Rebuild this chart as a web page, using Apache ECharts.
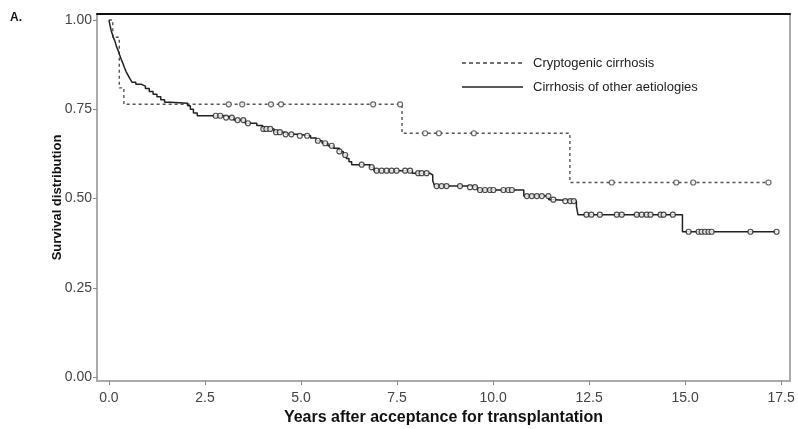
<!DOCTYPE html>
<html>
<head>
<meta charset="utf-8">
<script src="https://cdn.jsdelivr.net/npm/echarts@6/dist/echarts.min.js"></script>
<style>
  html, body { margin: 0; padding: 0; background: #fff; }
  #chart { width: 798px; height: 429px; }
</style>
</head>
<body>
<div id="chart"></div>
<script>
// Kaplan-Meier steps: [time (years), survival after the event]
var cryptoSteps = [
  [0, 1.0], [0.1, 0.952], [0.27, 0.81], [0.39, 0.764],
  [7.63, 0.683], [12.0, 0.545], [17.17, 0.545]
];
var cryptoCensor = [3.12, 3.47, 4.22, 4.48, 6.88, 7.58, 8.23, 8.59, 9.5, 13.09, 14.77, 15.21, 17.17];

var otherSteps = [
  [0, 1.0], [0.03, 0.985], [0.06, 0.97], [0.09, 0.96], [0.12, 0.95], [0.16, 0.94],
  [0.2, 0.925], [0.24, 0.915], [0.28, 0.902], [0.32, 0.89], [0.36, 0.88], [0.4, 0.868],
  [0.45, 0.855], [0.5, 0.845], [0.55, 0.835], [0.6, 0.826], [0.7, 0.82], [0.85, 0.815],
  [0.95, 0.808], [1.05, 0.8], [1.15, 0.792], [1.25, 0.785], [1.35, 0.777], [1.45, 0.77],
  [1.6, 0.767], [2.05, 0.76], [2.12, 0.75], [2.2, 0.74], [2.3, 0.732],
  [2.95, 0.727], [3.25, 0.72], [3.55, 0.711], [3.85, 0.705], [4.0, 0.695], [4.3, 0.686],
  [4.6, 0.68], [4.9, 0.676], [5.25, 0.67], [5.4, 0.662], [5.55, 0.655], [5.7, 0.648],
  [5.85, 0.641], [6.0, 0.632], [6.1, 0.622], [6.18, 0.612], [6.25, 0.603], [6.32, 0.595],
  [6.8, 0.588], [6.9, 0.578], [7.9, 0.571], [8.35, 0.566], [8.43, 0.55], [8.48, 0.535],
  [9.4, 0.532], [9.6, 0.524], [10.8, 0.507], [11.45, 0.497], [11.62, 0.493],
  [12.17, 0.478], [12.21, 0.455], [14.93, 0.407], [17.38, 0.407]
];
var otherCensor = [
  2.78, 2.9, 3.05, 3.2, 3.35, 3.5, 3.62, 4.02, 4.1, 4.2, 4.35, 4.45, 4.6, 4.75,
  4.97, 5.16, 5.44, 5.63, 5.8, 6.0, 6.15, 6.58, 6.84, 6.97, 7.1, 7.23, 7.36, 7.49,
  7.71, 7.84, 8.05, 8.14, 8.27, 8.53, 8.66, 8.79, 9.14, 9.4, 9.53, 9.66, 9.79, 9.92,
  10.01, 10.27, 10.4, 10.49, 10.88, 11.01, 11.14, 11.27, 11.44, 11.57, 11.88, 12.01, 12.1,
  12.43, 12.56, 12.78, 13.22, 13.35, 13.74, 13.87, 14.0, 14.1, 14.36, 14.44, 14.68,
  15.09, 15.35, 15.43, 15.52, 15.61, 15.69, 16.7, 17.38
];

var xTicks = [0, 2.5, 5, 7.5, 10, 12.5, 15, 17.5];
var yTicks = [0, 0.25, 0.5, 0.75, 1.0];
var legendNames = ['Cryptogenic cirrhosis', 'Cirrhosis of other aetiologies'];

// survival level at a censoring time
function levelAt(steps, t) {
  var v = steps[0][1];
  for (var i = 0; i < steps.length; i++) {
    if (steps[i][0] <= t) v = steps[i][1];
  }
  return v;
}

var chart = echarts.init(document.getElementById('chart'));
var font = 'Liberation Sans, Arial, sans-serif';
var tickColor = '#444';
var frameColor = '#aaa';

var option = {
  animation: false,
  textStyle: { fontFamily: font },
  grid: { left: 97, top: 14, right: 8, bottom: 48, show: true, borderColor: frameColor, borderWidth: 2,
    outerBoundsMode: 'none' },
  graphic: [
    { type: 'text', left: 10, top: 12,
      style: { text: 'A.', font: 'bold 12px ' + font, fill: '#111' } },
    // legend drawn by hand so the keys are plain line samples
    { type: 'line', shape: { x1: 462, y1: 63, x2: 523, y2: 63 },
      style: { stroke: '#444', lineWidth: 1.5, lineDash: [4, 3] } },
    { type: 'text', left: 533, top: 57,
      style: { text: legendNames[0], font: '13px ' + font, fill: '#222' } },
    { type: 'line', shape: { x1: 462, y1: 87, x2: 523, y2: 87 },
      style: { stroke: '#222', lineWidth: 1.6 } },
    { type: 'text', left: 533, top: 81,
      style: { text: legendNames[1], font: '13px ' + font, fill: '#222' } }
  ],
  xAxis: [{
    type: 'value', min: -0.31, max: 17.73,
    name: 'Years after acceptance for transplantation',
    nameLocation: 'middle', nameGap: 29, nameMoveOverlap: false,
    nameTextStyle: { fontWeight: 'bold', fontSize: 16, color: '#111' },
    axisLine: { onZero: false, lineStyle: { color: frameColor, width: 2 } },
    axisTick: { show: true, length: 4, customValues: xTicks, lineStyle: { color: '#888' } },
    axisLabel: { customValues: xTicks, margin: 10, fontSize: 14, color: tickColor,
      formatter: function (v) { return v.toFixed(1); } },
    splitLine: { show: false }
  }, {
    type: 'value', position: 'top', min: -0.31, max: 17.73,
    axisLine: { show: true, onZero: false, lineStyle: { color: '#111', width: 2 } },
    axisTick: { show: false }, axisLabel: { show: false }, splitLine: { show: false }
  }],
  yAxis: {
    type: 'value', min: -0.011, max: 1.017,
    name: 'Survival distribution',
    nameLocation: 'middle', nameGap: 33, nameMoveOverlap: false,
    nameTextStyle: { fontWeight: 'bold', fontSize: 13, color: '#111' },
    axisLine: { show: true, onZero: false, lineStyle: { color: frameColor, width: 2 } },
    axisTick: { show: true, length: 4, customValues: yTicks, lineStyle: { color: '#888' } },
    axisLabel: { customValues: yTicks, margin: 5, fontSize: 14, color: tickColor,
      formatter: function (v) { return v.toFixed(2); } },
    splitLine: { show: false }
  },
  series: [{
    name: legendNames[0], type: 'line', step: 'end',
    symbol: 'none', showSymbol: false,
    lineStyle: { color: '#555', width: 1.4, type: [3, 3] },
    data: cryptoSteps, z: 2
  }, {
    name: legendNames[1], type: 'line', step: 'end',
    symbol: 'none', showSymbol: false,
    lineStyle: { color: '#222', width: 1.5 },
    data: otherSteps, z: 3
  }, {
    name: 'crypto censor', type: 'scatter', symbol: 'circle', symbolSize: 5,
    itemStyle: { color: '#fff', borderColor: '#444', borderWidth: 1.2 },
    data: cryptoCensor.map(function (t) { return [t, levelAt(cryptoSteps, t)]; }), z: 4
  }, {
    name: 'other censor', type: 'scatter', symbol: 'circle', symbolSize: 5,
    itemStyle: { color: '#fff', borderColor: '#222', borderWidth: 1.2 },
    data: otherCensor.map(function (t) { return [t, levelAt(otherSteps, t)]; }), z: 5
  }]
};
chart.setOption(option);
</script>
</body>
</html>
